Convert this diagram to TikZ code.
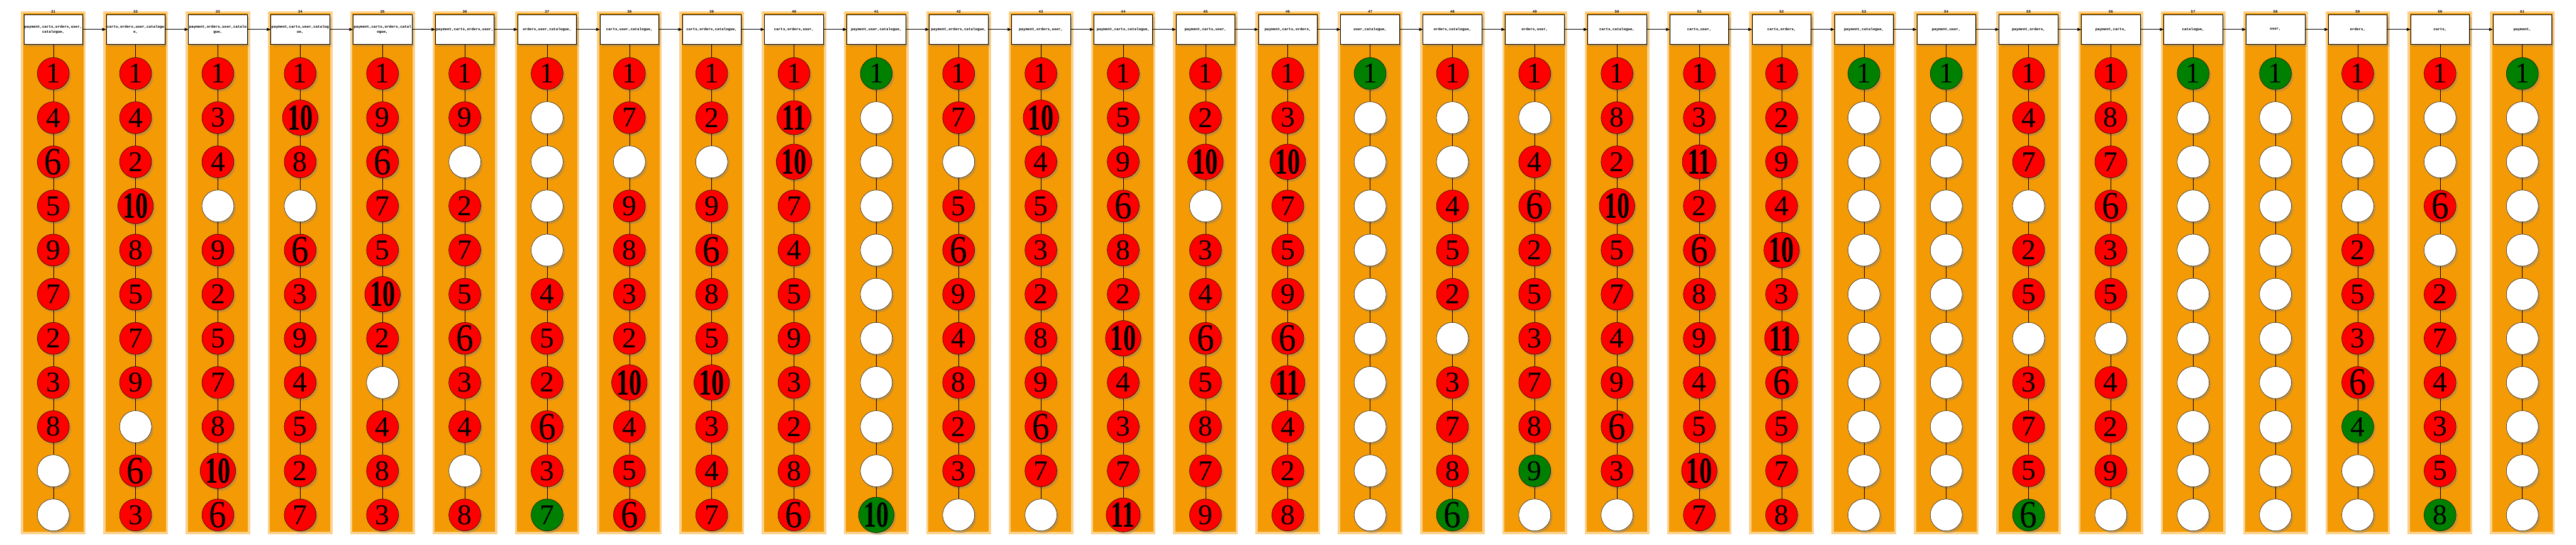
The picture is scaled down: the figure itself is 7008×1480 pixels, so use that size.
\documentclass[tikz,border=0pt]{standalone}
\usepackage{fontspec}
\setmainfont{Liberation Serif}
\newfontfamily\setfont{Liberation Mono}
\usepackage{tikz}
\usetikzlibrary{arrows.meta,shadows}
\definecolor{TCOrange}{HTML}{F39A05}
\definecolor{rd}{HTML}{FF0000}
\definecolor{gn}{HTML}{008000}
\definecolor{wt}{HTML}{FFFFFF}

% number inside a ball; 0 means an empty ball
\newcommand{\balltext}[1]{%
  \ifnum#1=0\relax
  \else\ifnum#1>9\relax
    \scalebox{0.69}[1]{\fontsize{100}{100}\selectfont\bfseries #1}%
  \else\ifnum#1=6\relax
    \scalebox{0.9}[1]{\fontsize{105}{105}\selectfont 6}%
  \else
    #1%
  \fi\fi\fi}

\begin{document}
\begin{tikzpicture}[x=1pt, y=-1pt,
  lane/.style={fill=TCOrange, draw=TCOrange!45, line width=6pt,
    minimum width=170pt, minimum height=1416pt, inner sep=0pt},
  setbox/.style={draw=black, line width=1.2pt, fill=white, minimum width=160pt,
    minimum height=80pt, inner sep=0pt, align=center,
    font=\setfont\bfseries\fontsize{10}{13}\selectfont,
    drop shadow={shadow xshift=5pt, shadow yshift=-6pt, opacity=0.35}},
  tag/.style={font=\setfont\bfseries\fontsize{10}{12}\selectfont, inner sep=0pt},
  ball/.style={circle, draw=black, line width=0.8pt, fill=#1, minimum size=87pt,
    inner sep=0pt, font=\fontsize{78}{78}\selectfont,
    drop shadow={shadow xshift=5pt, shadow yshift=-6pt, opacity=0.35}},
  link/.style={line width=0.8pt},
  flow/.style={-{Triangle[length=10pt,width=8pt]}, line width=0.9pt},
]
  \useasboundingbox (0,0) rectangle (7008,1480);

  \foreach \k/\sets/\balls [evaluate=\k as \x using 145+223.9*(\k-31)] in {
    31/{payment,carts,orders,user,\\catalogue,}/{rd/1,rd/4,rd/6,rd/5,rd/9,rd/7,rd/2,rd/3,rd/8,wt/0,wt/0},
    32/{carts,orders,user,catalogu\\e,}/{rd/1,rd/4,rd/2,rd/10,rd/8,rd/5,rd/7,rd/9,wt/0,rd/6,rd/3},
    33/{payment,orders,user,catalo\\gue,}/{rd/1,rd/3,rd/4,wt/0,rd/9,rd/2,rd/5,rd/7,rd/8,rd/10,rd/6},
    34/{payment,carts,user,catalog\\ue,}/{rd/1,rd/10,rd/8,wt/0,rd/6,rd/3,rd/9,rd/4,rd/5,rd/2,rd/7},
    35/{payment,carts,orders,catal\\ogue,}/{rd/1,rd/9,rd/6,rd/7,rd/5,rd/10,rd/2,wt/0,rd/4,rd/8,rd/3},
    36/{payment,carts,orders,user,}/{rd/1,rd/9,wt/0,rd/2,rd/7,rd/5,rd/6,rd/3,rd/4,wt/0,rd/8},
    37/{orders,user,catalogue,}/{rd/1,wt/0,wt/0,wt/0,wt/0,rd/4,rd/5,rd/2,rd/6,rd/3,gn/7},
    38/{carts,user,catalogue,}/{rd/1,rd/7,wt/0,rd/9,rd/8,rd/3,rd/2,rd/10,rd/4,rd/5,rd/6},
    39/{carts,orders,catalogue,}/{rd/1,rd/2,wt/0,rd/9,rd/6,rd/8,rd/5,rd/10,rd/3,rd/4,rd/7},
    40/{carts,orders,user,}/{rd/1,rd/11,rd/10,rd/7,rd/4,rd/5,rd/9,rd/3,rd/2,rd/8,rd/6},
    41/{payment,user,catalogue,}/{gn/1,wt/0,wt/0,wt/0,wt/0,wt/0,wt/0,wt/0,wt/0,wt/0,gn/10},
    42/{payment,orders,catalogue,}/{rd/1,rd/7,wt/0,rd/5,rd/6,rd/9,rd/4,rd/8,rd/2,rd/3,wt/0},
    43/{payment,orders,user,}/{rd/1,rd/10,rd/4,rd/5,rd/3,rd/2,rd/8,rd/9,rd/6,rd/7,wt/0},
    44/{payment,carts,catalogue,}/{rd/1,rd/5,rd/9,rd/6,rd/8,rd/2,rd/10,rd/4,rd/3,rd/7,rd/11},
    45/{payment,carts,user,}/{rd/1,rd/2,rd/10,wt/0,rd/3,rd/4,rd/6,rd/5,rd/8,rd/7,rd/9},
    46/{payment,carts,orders,}/{rd/1,rd/3,rd/10,rd/7,rd/5,rd/9,rd/6,rd/11,rd/4,rd/2,rd/8},
    47/{user,catalogue,}/{gn/1,wt/0,wt/0,wt/0,wt/0,wt/0,wt/0,wt/0,wt/0,wt/0,wt/0},
    48/{orders,catalogue,}/{rd/1,wt/0,wt/0,rd/4,rd/5,rd/2,wt/0,rd/3,rd/7,rd/8,gn/6},
    49/{orders,user,}/{rd/1,wt/0,rd/4,rd/6,rd/2,rd/5,rd/3,rd/7,rd/8,gn/9,wt/0},
    50/{carts,catalogue,}/{rd/1,rd/8,rd/2,rd/10,rd/5,rd/7,rd/4,rd/9,rd/6,rd/3,wt/0},
    51/{carts,user,}/{rd/1,rd/3,rd/11,rd/2,rd/6,rd/8,rd/9,rd/4,rd/5,rd/10,rd/7},
    52/{carts,orders,}/{rd/1,rd/2,rd/9,rd/4,rd/10,rd/3,rd/11,rd/6,rd/5,rd/7,rd/8},
    53/{payment,catalogue,}/{gn/1,wt/0,wt/0,wt/0,wt/0,wt/0,wt/0,wt/0,wt/0,wt/0,wt/0},
    54/{payment,user,}/{gn/1,wt/0,wt/0,wt/0,wt/0,wt/0,wt/0,wt/0,wt/0,wt/0,wt/0},
    55/{payment,orders,}/{rd/1,rd/4,rd/7,wt/0,rd/2,rd/5,wt/0,rd/3,rd/7,rd/5,gn/6},
    56/{payment,carts,}/{rd/1,rd/8,rd/7,rd/6,rd/3,rd/5,wt/0,rd/4,rd/2,rd/9,wt/0},
    57/{catalogue,}/{gn/1,wt/0,wt/0,wt/0,wt/0,wt/0,wt/0,wt/0,wt/0,wt/0,wt/0},
    58/{user,}/{gn/1,wt/0,wt/0,wt/0,wt/0,wt/0,wt/0,wt/0,wt/0,wt/0,wt/0},
    59/{orders,}/{rd/1,wt/0,wt/0,wt/0,rd/2,rd/5,rd/3,rd/6,gn/4,wt/0,wt/0},
    60/{carts,}/{rd/1,wt/0,wt/0,rd/6,wt/0,rd/2,rd/7,rd/4,rd/3,rd/5,gn/8},
    61/{payment,}/{gn/1,wt/0,wt/0,wt/0,wt/0,wt/0,wt/0,wt/0,wt/0,wt/0,wt/0}%
  }{
    \node[lane] (lane\k) at (\x,741) {};
    \node[tag] (tag\k) at (\x,31) {\k};
    \node[setbox] (box\k) at (\x,80) {\sets};
    \foreach \c/\n [count=\j] in \balls
      \node[ball=\c] (b\k-\j) at (\x,80+120*\j) {\balltext{\n}};
    \draw[link] (box\k) -- (b\k-1);
    \foreach \j [evaluate=\j as \i using int(\j-1)] in {2,...,11}
      \draw[link] (b\k-\i) -- (b\k-\j);
  }

  % arrows from one set to the next
  \foreach \k [evaluate=\k as \nxt using int(\k+1)] in {31,...,60}
    \draw[flow] (box\k) -- (box\nxt);
\end{tikzpicture}
\end{document}
